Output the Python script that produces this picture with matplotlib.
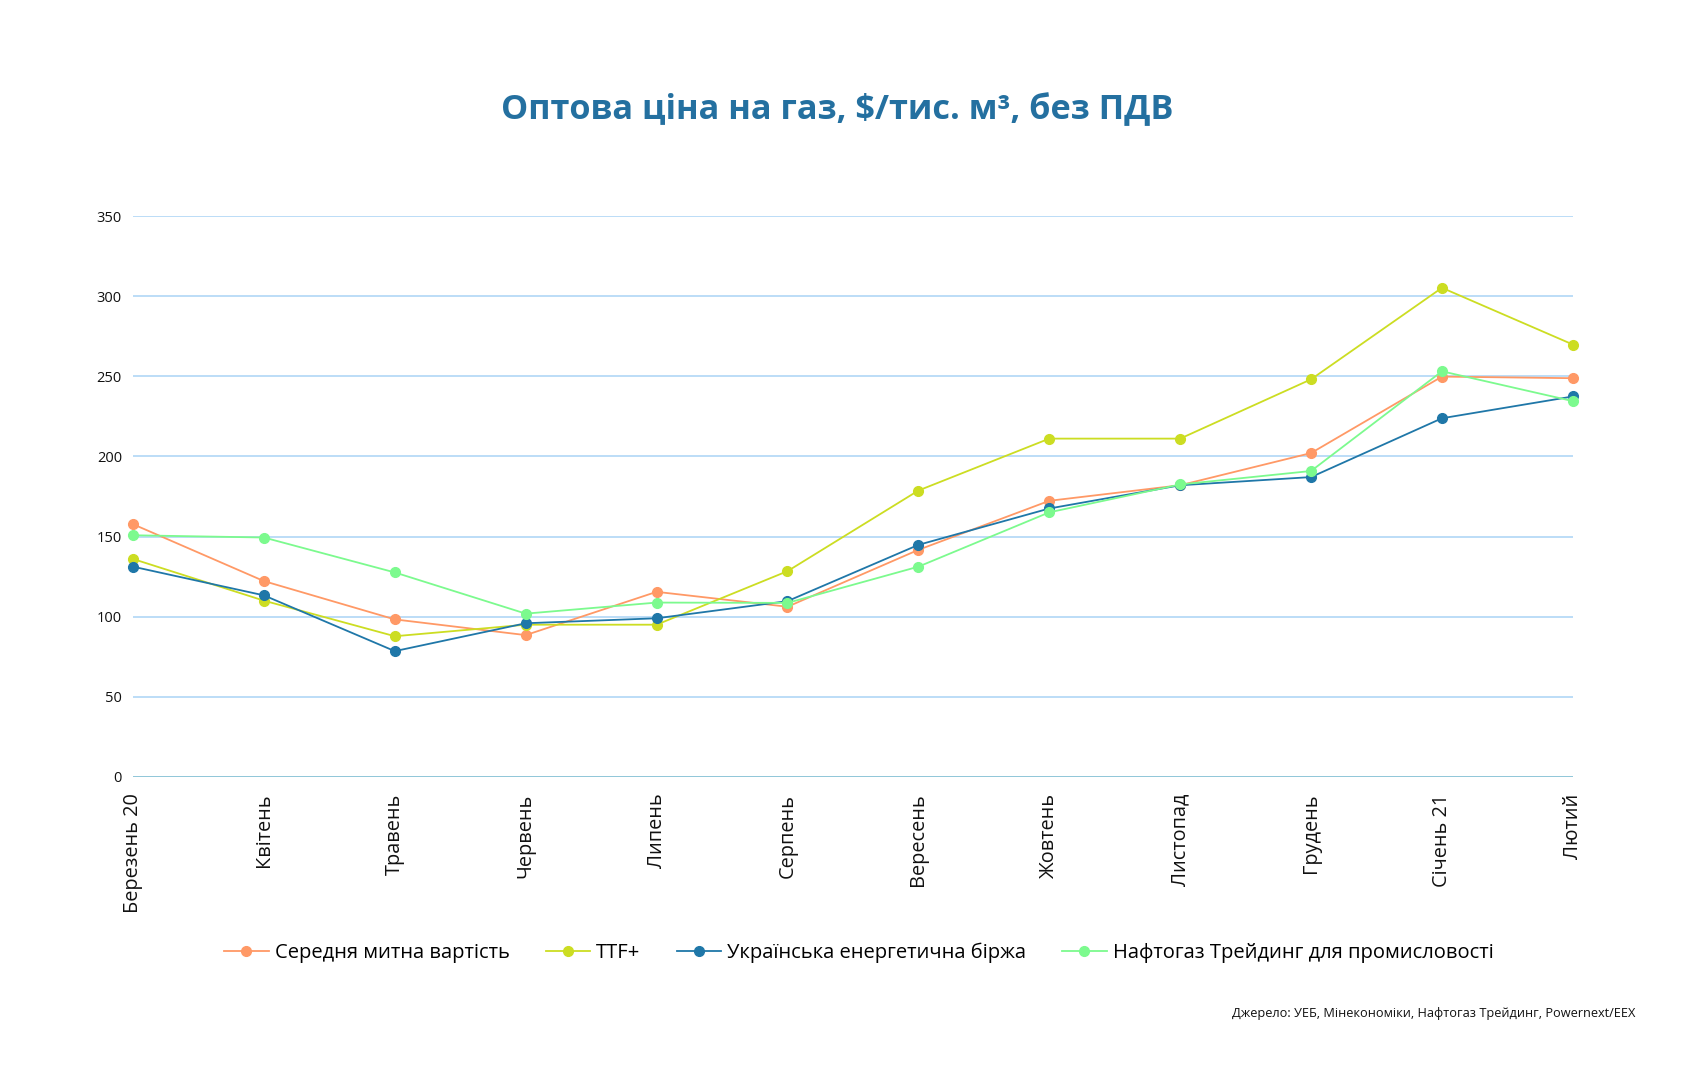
# coding=utf-8
import numpy as np
import matplotlib
matplotlib.use('Agg')
import matplotlib.pyplot as plt

# months (x axis)
months = ['Березень 20', 'Квітень', 'Травень', 'Червень', 'Липень', 'Серпень',
          'Вересень', 'Жовтень', 'Листопад', 'Грудень', 'Січень 21', 'Лютий']

# values, $/тис. м3
customs = [157.7, 122.2, 98.3, 88.5, 115.5, 106.2, 141.7, 172.3, 182.0, 202.1, 249.8, 248.8]
ttf = [136.0, 110.0, 87.8, 95.0, 95.0, 128.4, 178.7, 211.1, 211.1, 248.1, 305.2, 269.8]
ueb = [131.2, 113.3, 78.5, 95.9, 99.0, 109.7, 144.8, 167.5, 182.0, 187.1, 223.8, 237.4]
naftogaz = [150.8, 149.4, 127.6, 101.9, 108.8, 108.6, 131.2, 165.1, 182.5, 190.9, 253.1, 234.5]

names = ['Середня митна вартість', 'TTF+', 'Українська енергетична біржа',
         'Нафтогаз Трейдинг для промисловості']
colors = ['#FF9966', '#CCDD22', '#1F77A8', '#7CFA8E']

plt.rcParams['font.family'] = ['Open Sans', 'DejaVu Sans']

fig = plt.figure(figsize=(16.84, 10.8), dpi=100)
ax = fig.add_axes([0.079, 0.2806, 0.855, 0.5194])

x = np.arange(len(months))
for vals, name, c in zip([customs, ttf, ueb, naftogaz], names, colors):
    ax.plot(x, vals, color=c, lw=1.3, marker='o', ms=7, label=name, clip_on=False, zorder=3)

ax.set_xlim(0, len(months) - 1)
ax.set_ylim(0, 350)
ax.set_yticks(np.arange(0, 351, 50))
ax.grid(axis='y', color='#A9D3F5', lw=1.1)
ax.axhline(0, color='#8EC5D6', lw=1.3, zorder=2)
for s in ax.spines.values():
    s.set_visible(False)
ax.tick_params(axis='both', length=0)
ax.tick_params(axis='y', labelsize=10.5, pad=8, colors='#111111')
ax.set_xticks(x)
ax.set_xticklabels(months, rotation=90, fontsize=14.3, va='top', ha='center')
ax.tick_params(axis='x', pad=12, colors='#111111')

fig.text(0.497, 0.898, 'Оптова ціна на газ, $/тис. м³, без ПДВ', ha='center', va='center',
         fontsize=24.7, fontweight='bold', color='#2470A0')

fig.legend(loc='center', bbox_to_anchor=(0.51, 0.118), ncol=4, frameon=False,
           fontsize=14.5, handlelength=2.2, columnspacing=1.8, handletextpad=0.3)

fig.text(0.971, 0.062, 'Джерело: УЕБ, Мінекономіки, Нафтогаз Трейдинг, Powernext/EEX',
         ha='right', va='center', fontsize=9.2, color='#111111')

plt.savefig('out.png', dpi=100)
